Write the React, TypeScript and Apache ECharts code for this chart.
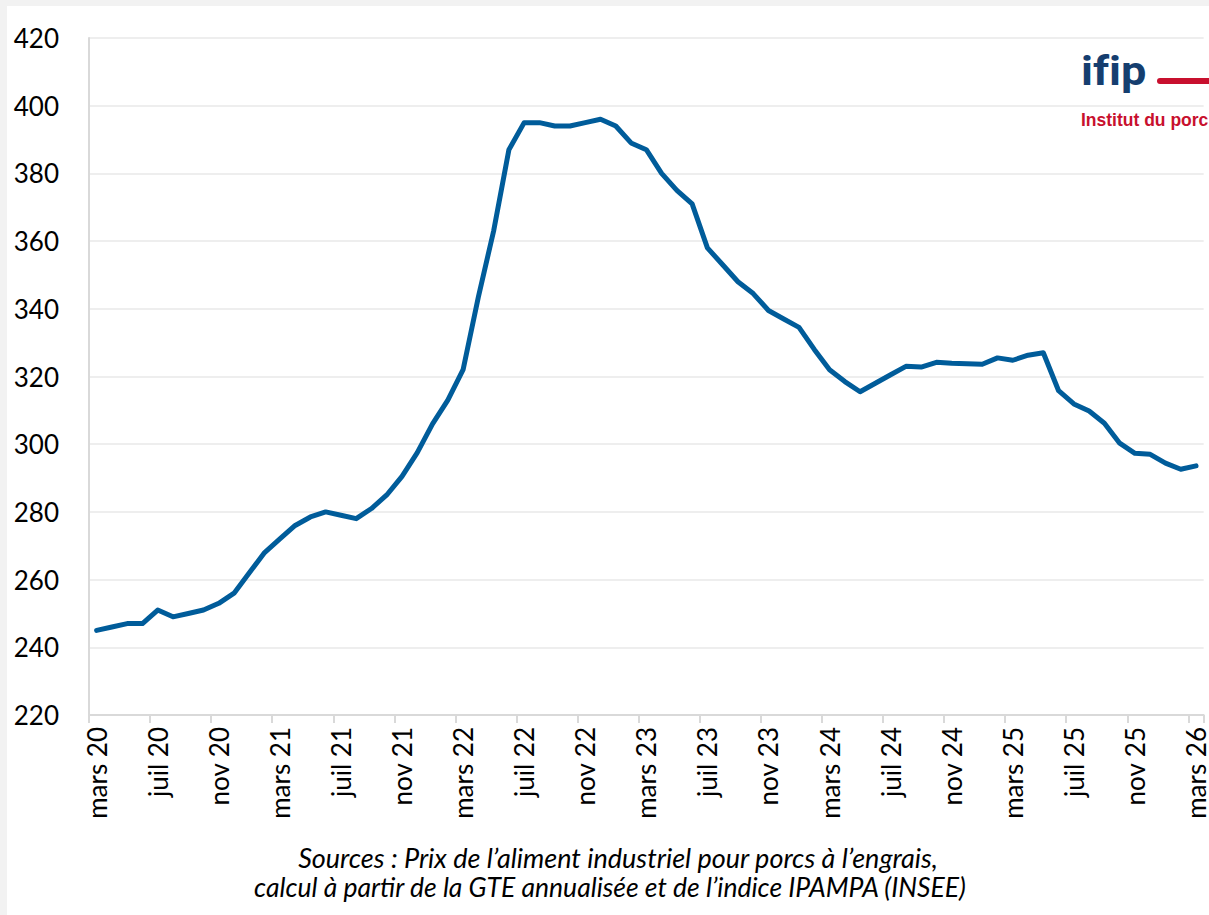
import React, { useEffect, useRef } from "react";
import * as echarts from "echarts";

// Month abbreviations (French) and years covered: mars 2020 -> mars 2026
const monthNames = ["janv", "févr", "mars", "avr", "mai", "juin", "juil", "août", "sept", "oct", "nov", "déc"];
const startYear = 20;
const startMonth = 2; // mars
const monthCount = 73;

// Prix de l'aliment industriel pour porcs à l'engrais (€/t), monthly
const prices = [
  245, 246, 247, 247, 251, 249, 250, 251, 253, 256,
  262, 268, 272, 276, 278.5, 280, 279, 278, 281, 285,
  290.5, 297.5, 306, 313, 322, 343.5, 363, 387, 395, 395,
  394, 394, 395, 396, 394, 389, 387, 380, 375, 371,
  358, 353, 348, 344.5, 339.5, 337, 334.5, 328, 322, 318.5,
  315.5, 318, 320.5, 323, 322.8, 324.2, 323.9, 323.8, 323.6, 325.5,
  324.8, 326.3, 327, 315.8, 311.9, 309.8, 306.2, 300.3, 297.3, 297,
  294.4, 292.6, 293.6,
];

const yMin = 220;
const yMax = 420;
const yStep = 20;

const sourceLine1 = "Sources : Prix de l’aliment industriel pour porcs à l’engrais,";
const sourceLine2 = "calcul à partir de la GTE annualisée et de l’indice IPAMPA (INSEE)";

function buildCategories(): string[] {
  const out: string[] = [];
  for (let i = 0; i < monthCount; i++) {
    const m = (startMonth + i) % 12;
    const y = startYear + Math.floor((startMonth + i) / 12);
    out.push(`${monthNames[m]} ${y}`);
  }
  return out;
}

export default function App() {
  const ref = useRef<HTMLDivElement>(null);

  useEffect(() => {
    if (!ref.current) return;
    const chart = echarts.init(ref.current, undefined, { renderer: "svg" });
    const categories = buildCategories();
    const axisGray = "#d9d9d9";
    chart.setOption({
      animation: false,
      backgroundColor: "#ffffff",
      grid: { left: 89, right: 3, top: 38, bottom: 200, containLabel: false },
      xAxis: {
        type: "category",
        data: categories,
        boundaryGap: true,
        axisLine: { show: true, lineStyle: { color: axisGray, width: 2 } },
        axisTick: { show: true, interval: 3, length: 8, lineStyle: { color: axisGray, width: 2 } },
        axisLabel: {
          interval: 3,
          rotate: 90,
          margin: 12,
          fontSize: 26,
          fontFamily: "Lato",
          color: "#000000",
        },
        splitLine: { show: false },
      },
      yAxis: {
        type: "value",
        min: yMin,
        max: yMax,
        interval: yStep,
        axisLine: { show: true, lineStyle: { color: axisGray, width: 2 } },
        axisTick: { show: false },
        axisLabel: { fontSize: 26, fontFamily: "Lato", color: "#000000", margin: 30 },
        splitLine: { show: true, lineStyle: { color: "#eeeeee", width: 2 } },
      },
      series: [
        {
          type: "line",
          data: prices,
          symbol: "none",
          lineStyle: { color: "#005c9a", width: 5, join: "round", cap: "round" },
          itemStyle: { color: "#005c9a" },
        },
      ],
      graphic: [
        { type: "rect", left: 0, top: 0, shape: { x: 0, y: 0, width: 1209, height: 6 }, style: { fill: "#f2f2f2" }, silent: true },
        { type: "rect", left: 0, top: 0, shape: { x: 0, y: 0, width: 7, height: 915 }, style: { fill: "#f2f2f2" }, silent: true },
        {
          type: "text",
          x: 1081,
          y: 71,
          scaleX: 1.1,
          style: { text: "if\u200Cip", font: "bold 41px Roboto", fill: "#153e6f", verticalAlign: "middle", align: "left" },
        },
        {
          type: "rect",
          shape: { x: 1157, y: 78, width: 60, height: 6, r: 3 },
          style: { fill: "#c8102e" },
        },
        {
          type: "text",
          x: 1081,
          y: 120,
          style: { text: "Institut du porc", font: "bold 17.5px 'Liberation Sans'", fill: "#c8102e", verticalAlign: "middle", align: "left" },
        },
        {
          type: "text",
          x: 618,
          y: 857,
          style: { text: sourceLine1, font: "italic 27px Lato", fill: "#000000", align: "center", verticalAlign: "middle" },
        },
        {
          type: "text",
          x: 610,
          y: 887,
          style: { text: sourceLine2, font: "italic 26.5px Lato", fill: "#000000", align: "center", verticalAlign: "middle" },
        },
      ],
    });
    return () => chart.dispose();
  }, []);

  return (
    <div
      ref={ref}
      style={{ position: "absolute", left: 0, top: 0, width: 1209, height: 915 }}
    />
  );
}
